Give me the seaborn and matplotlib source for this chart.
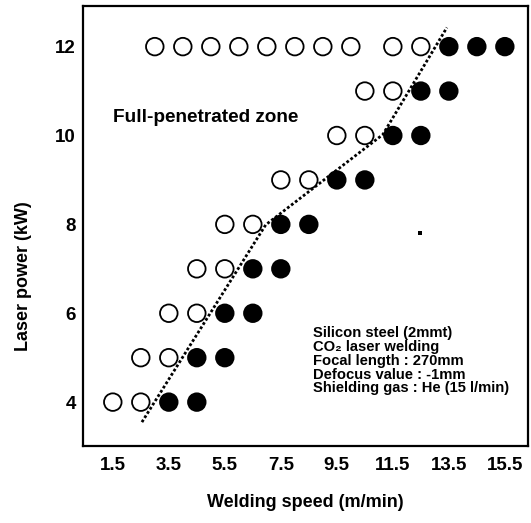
import pandas as pd
import seaborn as sns
import matplotlib.pyplot as plt

# Process map: open = not penetrated, filled = full penetration
open_speed = [1.5, 2.5, 2.5, 3.5, 3.5, 4.5, 4.5, 5.5, 5.5, 6.5, 7.5, 8.5,
              9.5, 10.5, 10.5, 11.5,
              3.0, 4.0, 5.0, 6.0, 7.0, 8.0, 9.0, 10.0, 11.5, 12.5]
open_power = [4, 4, 5, 5, 6, 6, 7, 7, 8, 8, 9, 9,
              10, 10, 11, 11,
              12, 12, 12, 12, 12, 12, 12, 12, 12, 12]
full_speed = [3.5, 4.5, 4.5, 5.5, 5.5, 6.5, 6.5, 7.5, 7.5, 8.5, 9.5, 10.5,
              11.5, 12.5, 12.5, 13.5, 13.5, 14.5, 15.5]
full_power = [4, 4, 5, 5, 6, 6, 7, 7, 8, 8, 9, 9,
              10, 10, 11, 11, 12, 12, 12]

# dotted boundary line
bound_speed = [2.54, 6.96, 11.14, 13.43]
bound_power = [3.55, 7.99, 10.02, 12.43]

# small speck in the original scan
speck_speed = [12.46]
speck_power = [7.81]

x_ticks = [1.5, 3.5, 5.5, 7.5, 9.5, 11.5, 13.5, 15.5]
y_ticks = [4, 6, 8, 10, 12]

conditions = ("Silicon steel (2mmt)\nCO\u2082 laser welding\nFocal length : 270mm\n"
              "Defocus value : -1mm\nShielding gas : He (15 l/min)")

df = pd.DataFrame({
    "speed": open_speed + full_speed,
    "power": open_power + full_power,
    "state": ["open"] * len(open_speed) + ["full"] * len(full_speed),
})

sns.set_style("white")
plt.rcParams["font.family"] = ["Liberation Sans", "DejaVu Sans"]
plt.rcParams["font.weight"] = "bold"
plt.rcParams["text.color"] = "black"
plt.rcParams["axes.labelcolor"] = "black"
plt.rcParams["xtick.color"] = "black"
plt.rcParams["ytick.color"] = "black"

fig = plt.figure(figsize=(5.31, 5.23), dpi=100)
ax = fig.add_axes([0.156, 0.147, 0.838, 0.842])

sns.lineplot(x=bound_speed, y=bound_power, ax=ax, color="black",
             linestyle=(0, (1, 0.8)), linewidth=2.0, sort=False)
sns.scatterplot(data=df, x="speed", y="power", hue="state",
                palette={"open": "white", "full": "black"},
                edgecolor="black", linewidth=1.3, s=160, ax=ax,
                legend=False, zorder=3)
sns.scatterplot(x=speck_speed, y=speck_power, color="black", s=8,
                marker="s", ax=ax, linewidth=0)

ax.text(1.5, 10.4, "Full-penetrated zone", fontsize=13.7, fontweight="bold",
        va="center", ha="left")
ax.text(8.64, 4.93, conditions, fontsize=10.6, fontweight="bold",
        va="center", ha="left", linespacing=0.98)

ax.set_xlim(0.43, 16.32)
ax.set_ylim(3.01, 12.92)
ax.set_xticks(x_ticks)
ax.set_xticklabels([str(v) for v in x_ticks])
ax.set_yticks(y_ticks)
ax.tick_params(length=0, labelsize=13.5)
ax.tick_params(axis="x", pad=8)
ax.tick_params(axis="y", pad=5)
for lab in ax.get_xticklabels() + ax.get_yticklabels():
    lab.set_fontweight("bold")

ax.set_xlabel("Welding speed (m/min)", fontsize=13, fontweight="bold")
ax.set_ylabel("Laser power (kW)", fontsize=13, fontweight="bold")
ax.xaxis.set_label_coords(0.5, -0.109)
ax.yaxis.set_label_coords(-0.115, 0.385)

for sp in ax.spines.values():
    sp.set_color("black")
    sp.set_linewidth(1.6)

fig.savefig("out.png", dpi=100)
